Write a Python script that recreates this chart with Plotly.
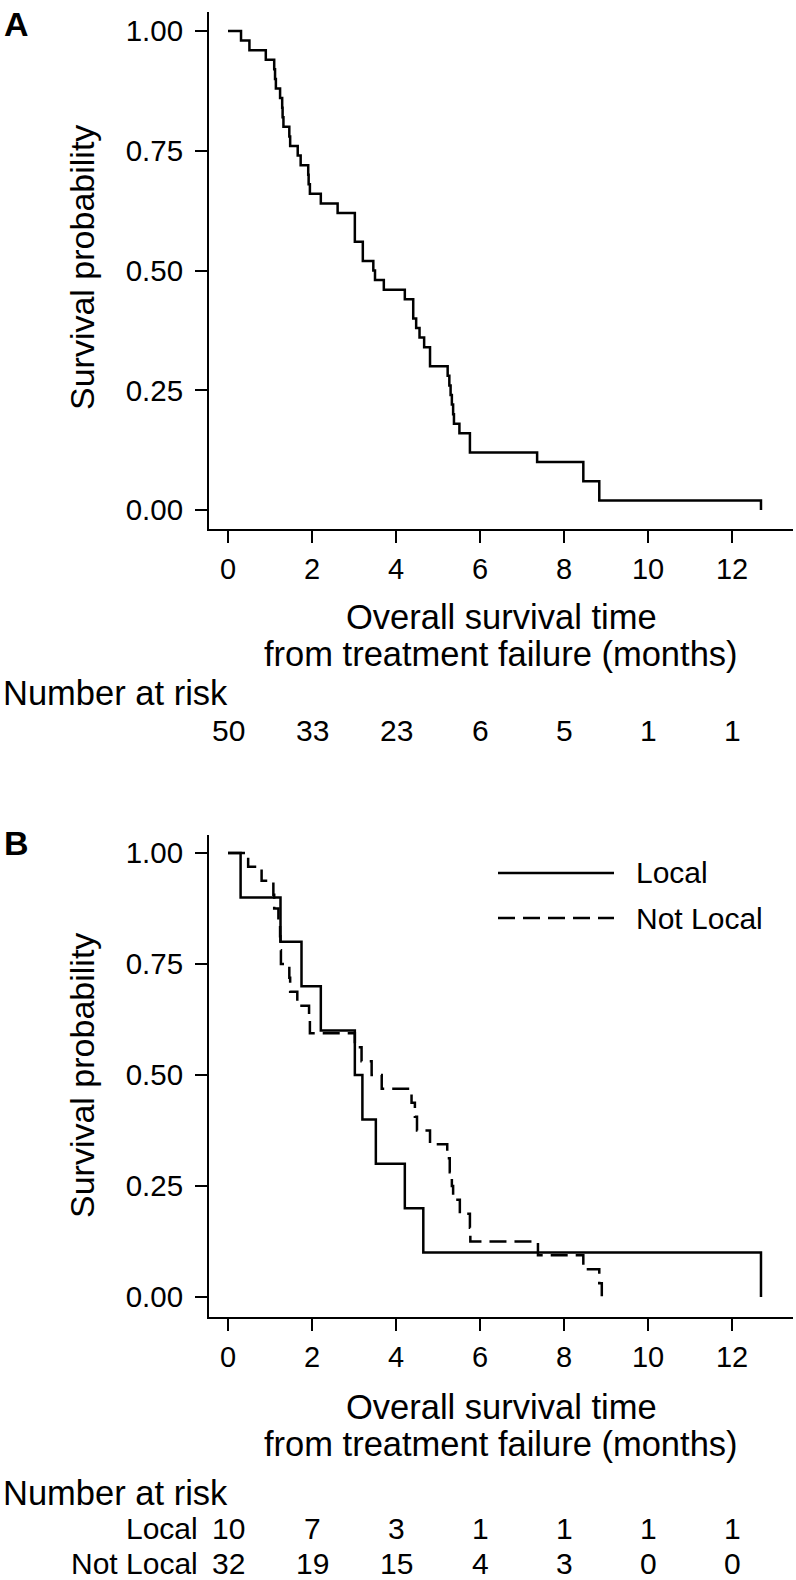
import plotly.graph_objects as go

# ---------------- data ----------------
# Panel A: all patients (Kaplan-Meier steps)
time_all = [0, 0.31, 0.51, 0.90, 1.10, 1.12, 1.14, 1.24, 1.29, 1.30, 1.32, 1.46, 1.48,
            1.66, 1.73, 1.91, 1.92, 1.95, 2.21, 2.61, 3.02, 3.21, 3.46, 3.50, 3.71, 4.21,
            4.41, 4.48, 4.56, 4.67, 4.81, 5.23, 5.27, 5.30, 5.33, 5.36, 5.38, 5.51, 5.76,
            7.36, 8.46, 8.84, 12.69]
surv_all = [1.00, 0.98, 0.96, 0.94, 0.92, 0.90, 0.88, 0.86, 0.84, 0.82, 0.80, 0.78, 0.76,
            0.74, 0.72, 0.70, 0.68, 0.66, 0.64, 0.62, 0.56, 0.52, 0.50, 0.48, 0.46, 0.44,
            0.40, 0.38, 0.36, 0.34, 0.30, 0.28, 0.26, 0.24, 0.22, 0.20, 0.18, 0.16, 0.12,
            0.10, 0.06, 0.02, 0.00]

# Panel B: Local vs Not Local
time_local = [0, 0.30, 1.25, 1.75, 2.21, 3.02, 3.20, 3.52, 4.21, 4.65, 12.69]
surv_local = [1.0, 0.9, 0.8, 0.7, 0.6, 0.5, 0.4, 0.3, 0.2, 0.1, 0.0]

time_notlocal = [0, 0.48, 0.80, 1.08, 1.10, 1.20, 1.24, 1.25, 1.26, 1.46, 1.48, 1.65,
                 1.93, 1.95, 3.02, 3.18, 3.42, 3.66, 4.37, 4.45, 4.50, 4.81, 5.22, 5.28,
                 5.33, 5.36, 5.52, 5.76, 5.77, 7.38, 8.46, 8.84, 8.90]
surv_notlocal = [1.0, 0.969, 0.9375, 0.906, 0.875, 0.844, 0.8125, 0.781, 0.75, 0.719,
                 0.6875, 0.656, 0.625, 0.594, 0.5625, 0.531, 0.50, 0.469, 0.4375, 0.406,
                 0.375, 0.344, 0.3125, 0.281, 0.25, 0.219, 0.1875, 0.156, 0.125, 0.094,
                 0.0625, 0.031, 0.0]

# Number at risk table
risk_times = [0, 2, 4, 6, 8, 10, 12]
risk_all = [50, 33, 23, 6, 5, 1, 1]
risk_local = [10, 7, 3, 1, 1, 1, 1]
risk_notlocal = [32, 19, 15, 4, 3, 0, 0]

y_ticks = [0, 0.25, 0.5, 0.75, 1.0]
y_ticktext = ["0.00", "0.25", "0.50", "0.75", "1.00"]

group_names = ["Local", "Not Local"]
x_title_lines = ["Overall survival time", "from treatment failure (months)"]
y_title = "Survival probability"

# ---------------- layout helpers ----------------
W, H = 796, 1580
FONT = "Liberation Sans, Arial, Helvetica, sans-serif"


def px_x(p):
    return p / W


def px_y(p):
    return 1 - p / H


fig = go.Figure()

fig.add_trace(go.Scatter(x=time_all, y=surv_all, mode="lines", line_shape="hv",
                         line=dict(color="black", width=2.5), xaxis="x", yaxis="y",
                         hoverinfo="skip"))
fig.add_trace(go.Scatter(x=time_notlocal, y=surv_notlocal, mode="lines", line_shape="hv",
                         line=dict(color="black", width=2.5, dash="17px,8px"),
                         xaxis="x2", yaxis="y2", hoverinfo="skip"))
fig.add_trace(go.Scatter(x=time_local, y=surv_local, mode="lines", line_shape="hv",
                         line=dict(color="black", width=2.5), xaxis="x2", yaxis="y2",
                         hoverinfo="skip"))

x_dom = [px_x(209), px_x(793)]
x_rng = [-0.4524, 13.4524]

common_x = dict(range=x_rng, domain=x_dom, tickvals=risk_times, ticks="outside",
                ticklen=12, tickwidth=2, tickcolor="black", showline=True, linewidth=2,
                linecolor="black", showgrid=False, zeroline=False,
                tickfont=dict(family=FONT, size=29, color="black"),
                ticklabelstandoff=1, fixedrange=True)
common_y = dict(tickvals=y_ticks, ticktext=y_ticktext, ticks="outside", ticklen=12,
                tickwidth=2, tickcolor="black", showline=True, linewidth=2,
                linecolor="black", showgrid=False, zeroline=False,
                tickfont=dict(family=FONT, size=29.5, color="black"),
                ticklabelstandoff=6, fixedrange=True)

fig.update_layout(
    width=W, height=H, margin=dict(l=0, r=0, t=0, b=0),
    paper_bgcolor="white", plot_bgcolor="white", showlegend=False,
    font=dict(family=FONT, color="black"),
    xaxis=dict(anchor="y", **common_x),
    yaxis=dict(anchor="x", domain=[px_y(529), px_y(12)], range=[-0.0397, 1.0397], **common_y),
    xaxis2=dict(anchor="y2", **common_x),
    yaxis2=dict(anchor="x2", domain=[px_y(1317), px_y(835)], range=[-0.045, 1.0405], **common_y),
)

ann = []


def text(x, y, s, size, xanchor="center", xref="paper", bold=False, angle=0):
    ann.append(dict(x=x, y=y, xref=xref, yref="paper", text=("<b>%s</b>" % s) if bold else s,
                    showarrow=False, xanchor=xanchor, yanchor="middle", textangle=angle,
                    font=dict(family=FONT, size=size, color="black")))


# Panel labels
text(px_x(2), px_y(24), "A", 34, xanchor="left", bold=True)
text(px_x(2), px_y(843), "B", 34, xanchor="left", bold=True)

# y titles
text(px_x(82), px_y(268), y_title, 34, angle=-90)
text(px_x(82), px_y(1076), y_title, 34, angle=-90)

# x titles
xc = px_x(501)
text(xc, px_y(617), x_title_lines[0], 34.5)
text(xc, px_y(654), x_title_lines[1], 34.5)
text(xc, px_y(1407), x_title_lines[0], 34.5)
text(xc, px_y(1444), x_title_lines[1], 34.5)

# Number at risk A
text(px_x(1), px_y(693), "Number at risk", 34.5, xanchor="left")
for t, n in zip(risk_times, risk_all):
    text(t, px_y(730), str(n), 30, xref="x")

# Number at risk B
text(px_x(1), px_y(1493), "Number at risk", 34.5, xanchor="left")
text(px_x(200), px_y(1528), group_names[0], 30, xanchor="right")
text(px_x(200), px_y(1563), group_names[1], 30, xanchor="right")
for t, n in zip(risk_times, risk_local):
    text(t, px_y(1528), str(n), 30, xref="x2")
for t, n in zip(risk_times, risk_notlocal):
    text(t, px_y(1563), str(n), 30, xref="x2")

# Legend (panel B)
text(px_x(634), px_y(873), group_names[0], 30, xanchor="left")
text(px_x(634), px_y(918), group_names[1], 30, xanchor="left")

fig.update_layout(annotations=ann)

shapes = [
    dict(type="line", xref="paper", yref="paper", x0=px_x(498), x1=px_x(614),
         y0=px_y(873), y1=px_y(873), line=dict(color="black", width=2.5)),
    dict(type="line", xref="paper", yref="paper", x0=px_x(498), x1=px_x(614),
         y0=px_y(918), y1=px_y(918), line=dict(color="black", width=2.5, dash="17px,8px")),
]
fig.update_layout(shapes=shapes)

# remove the browser's default 8px body margin so the figure sits at the page origin
fig.write_html("out.html",
               config={"displayModeBar": False},
               post_script="document.body.style.margin='0';"
                           "document.body.style.overflow='hidden';")
